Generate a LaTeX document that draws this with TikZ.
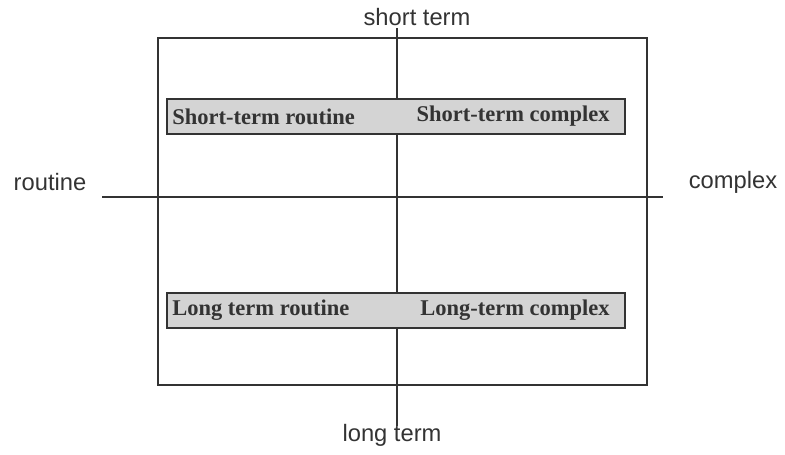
\documentclass[tikz,border=0pt]{standalone}
\usepackage{fontspec}
\setmainfont{Liberation Serif}
\setsansfont{Liberation Sans}
\definecolor{inkgray}{HTML}{333333}
\definecolor{barfill}{HTML}{D4D4D4}
\tikzset{
	axislabel/.style={text=inkgray, font=\sffamily\fontsize{13.5}{16}\selectfont, inner sep=0pt},
	bartext/.style={text=inkgray, font=\bfseries\fontsize{12.8}{15}\selectfont, inner sep=0pt},
	bar/.style={draw=inkgray, fill=barfill, line width=1.1pt},
	axisline/.style={draw=inkgray, line width=1.1pt},
}
\begin{document}
\begin{tikzpicture}
	\useasboundingbox (0,0) rectangle (15.70,9.10);
	\coordinate (frameSW) at (3.16,1.40);
	\coordinate (frameNE) at (12.94,8.34);
	\coordinate (axisN) at (7.94,8.54);
	\coordinate (axisS) at (7.94,0.58);
	\coordinate (axisW) at (2.04,5.16);
	\coordinate (axisE) at (13.26,5.16);
	\draw[axisline] (frameSW) rectangle (frameNE);
	\draw[axisline] (axisN) -- (axisS);
	\draw[axisline] (axisW) -- (axisE);
	\draw[bar] (3.34,6.42) rectangle (12.50,7.12);
	\draw[bar] (3.34,2.54) rectangle (12.50,3.24);
	\node[bartext, anchor=west] (strout) at (3.44,6.77) {Short-term routine};
	\node[bartext, anchor=east] (stcomp) at (12.20,6.77) {Short-term complex};
	\node[bartext, anchor=west] (ltrout) at (3.44,2.89) {Long term routine};
	\node[bartext, anchor=east] (ltcomp) at (12.20,2.89) {Long-term complex};
	\node[axislabel] (shortterm) at (8.34,8.76) {short term};
	\node[axislabel] (longterm) at (7.84,0.40) {long term};
	\node[axislabel] (routine) at (1.00,5.46) {routine};
	\node[axislabel] (complex) at (14.66,5.46) {complex};
\end{tikzpicture}
\end{document}
